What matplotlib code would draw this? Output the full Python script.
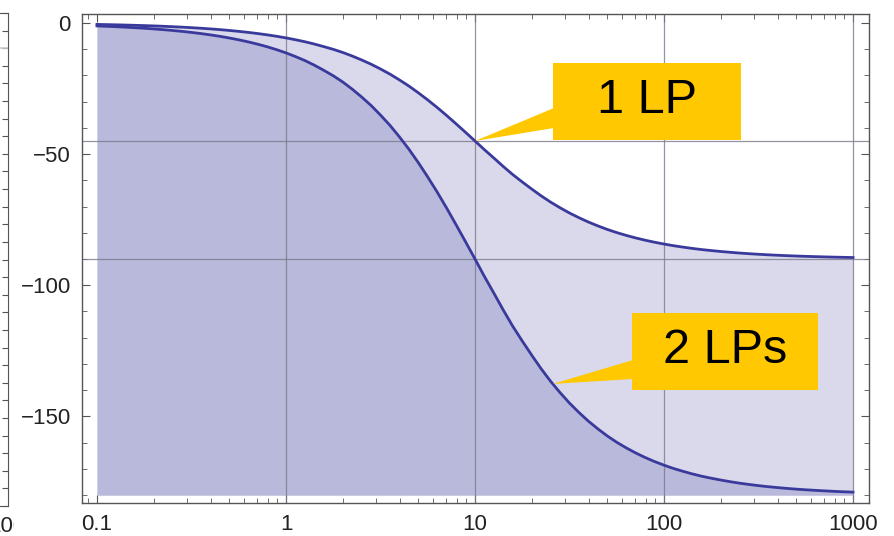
import numpy as np
import matplotlib
matplotlib.use("Agg")
import matplotlib.pyplot as plt
from matplotlib.patches import Rectangle, Polygon
from matplotlib.ticker import FixedLocator, LogLocator, MultipleLocator, NullFormatter

plt.rcParams['font.family'] = ['Liberation Sans', 'DejaVu Sans']

# frequency points (log spaced) and phase, in degrees
freq = [0.1, 0.112, 0.126, 0.141, 0.158, 0.178, 0.2, 0.224, 0.251, 0.282,
        0.316, 0.355, 0.398, 0.447, 0.501, 0.562, 0.631, 0.708, 0.794, 0.891,
        1, 1.12, 1.26, 1.41, 1.58, 1.78, 2.0, 2.24, 2.51, 2.82,
        3.16, 3.55, 3.98, 4.47, 5.01, 5.62, 6.31, 7.08, 7.94, 8.91,
        10, 11.2, 12.6, 14.1, 15.8, 17.8, 20, 22.4, 25.1, 28.2,
        31.6, 35.5, 39.8, 44.7, 50.1, 56.2, 63.1, 70.8, 79.4, 89.1,
        100, 112, 126, 141, 158, 178, 200, 224, 251, 282,
        316, 355, 398, 447, 501, 562, 631, 708, 794, 891, 1000]
phase_1lp = [-0.57, -0.64, -0.72, -0.81, -0.91, -1.02, -1.14, -1.28, -1.44, -1.61,
             -1.81, -2.03, -2.28, -2.56, -2.87, -3.22, -3.61, -4.05, -4.54, -5.09,
             -5.71, -6.40, -7.18, -8.04, -9.01, -10.08, -11.28, -12.62, -14.10, -15.74,
             -17.55, -19.53, -21.71, -24.07, -26.62, -29.35, -32.25, -35.30, -38.46, -41.71,
             -45.00, -48.29, -51.54, -54.70, -57.75, -60.65, -63.38, -65.93, -68.29, -70.47,
             -72.45, -74.26, -75.90, -77.38, -78.72, -79.92, -80.99, -81.96, -82.82, -83.60,
             -84.29, -84.91, -85.46, -85.95, -86.39, -86.78, -87.13, -87.44, -87.72, -87.97,
             -88.19, -88.39, -88.56, -88.72, -88.86, -88.98, -89.09, -89.19, -89.28, -89.36, -89.43]
phase_2lp = [-1.15, -1.29, -1.44, -1.62, -1.82, -2.04, -2.29, -2.57, -2.88, -3.23,
             -3.62, -4.06, -4.56, -5.11, -5.74, -6.44, -7.22, -8.10, -9.08, -10.19,
             -11.42, -12.80, -14.36, -16.08, -18.02, -20.16, -22.56, -25.24, -28.20, -31.48,
             -35.10, -39.06, -43.42, -48.14, -53.24, -58.70, -64.50, -70.60, -76.92, -83.42,
             -90.00, -96.58, -103.08, -109.40, -115.50, -121.30, -126.76, -131.86, -136.58, -140.94,
             -144.90, -148.52, -151.80, -154.76, -157.44, -159.84, -161.98, -163.92, -165.64, -167.20,
             -168.58, -169.82, -170.92, -171.90, -172.78, -173.56, -174.26, -174.88, -175.44, -175.94,
             -176.38, -176.78, -177.12, -177.44, -177.72, -177.96, -178.18, -178.38, -178.56, -178.72, -178.86]
fill_floor = -180

xticks = [0.1, 1, 10, 100, 1000]
xticklabels = ['0.1', '1', '10', '100', '1000']
yticks = [0, -50, -100, -150]
grid_x = [1, 10, 100, 1000]
grid_y = [-45, -90]

callout_text = ['1 LP', '2 LPs']
callout_tip = [(10, -45), (25.8, -137.6)]

W, H = 895, 536
fig = plt.figure(figsize=(W / 100, H / 100), dpi=100)

def fx(px):
    return px / W

def fy(py):
    return 1 - py / H

# cut-off neighbouring plot at the left edge
axl = fig.add_axes([fx(-400), fy(506), fx(408), fy(13) - fy(506)])
axl.set_xlim(0, 1)
axl.set_ylim(-27, 1)
axl.axhline(-1, color='#cccccc', lw=1.2)
axl.yaxis.tick_right()
axl.tick_params(axis='y', which='both', direction='in', length=4, color='#555555', labelright=False)
axl.yaxis.set_major_locator(MultipleLocator(1))
axl.set_xticks([])
for s in axl.spines.values():
    s.set_color('#555555')
fig.text(fx(-12), fy(526), '100', fontsize=16, color='#222222', ha='left', va='center')
fig.patches.append(Rectangle((fx(14), 0), fx(60), fy(506), transform=fig.transFigure,
                             color='white', zorder=5))

ax = fig.add_axes([fx(82), fy(503), fx(869) - fx(82), fy(14) - fy(503)])
ax.set_xscale('log')
ax.set_xlim(0.0833, 1215)
ax.set_ylim(-183, 3.4)

ax.fill_between(freq, phase_1lp, fill_floor, color='#d9d9eb', lw=0, zorder=1)
ax.fill_between(freq, phase_2lp, fill_floor, color='#b9badb', lw=0, zorder=1.1)
for gx in grid_x:
    ax.axvline(gx, color='#7a7a8c', lw=0.9, zorder=2, alpha=0.8)
for gy in grid_y:
    ax.axhline(gy, color='#7a7a8c', lw=0.9, zorder=2, alpha=0.8)
ax.plot(freq, phase_1lp, color='#3a3a9c', lw=2.0, zorder=3)
ax.plot(freq, phase_2lp, color='#3a3a9c', lw=2.0, zorder=3)

ax.xaxis.set_major_locator(FixedLocator(xticks))
ax.set_xticklabels(xticklabels)
ax.xaxis.set_minor_locator(LogLocator(base=10, subs=np.arange(2, 10)))
ax.xaxis.set_minor_formatter(NullFormatter())
ax.set_yticks(yticks)
ax.set_yticklabels(['0'] + ['\u2212%d' % -v for v in yticks[1:]])
ax.yaxis.set_minor_locator(MultipleLocator(10))
ax.tick_params(which='both', direction='in', top=True, right=True, color='#555555',
               labelsize=16, labelcolor='#222222', pad=8)
ax.tick_params(which='major', length=6)
ax.tick_params(which='minor', length=3.5)
for s in ax.spines.values():
    s.set_color('#555555')
    s.set_linewidth(1.0)

# yellow callouts: box in pixel layout, wedge pointing at the curve
boxes = [(553, 63, 741, 140, 108, 128), (632, 313, 818, 390, 360, 379)]
to_fig = fig.transFigure.inverted()
for text, tip, (x0, y0, x1, y1, w0, w1) in zip(callout_text, callout_tip, boxes):
    tx, ty = to_fig.transform(ax.transData.transform(tip))
    fig.patches.append(Rectangle((fx(x0), fy(y1)), fx(x1 - x0), fy(y0) - fy(y1),
                                 transform=fig.transFigure, color='#ffc800', lw=0, zorder=4))
    fig.patches.append(Polygon([(fx(x0 + 1), fy(w0)), (fx(x0 + 1), fy(w1)), (tx, ty)],
                               closed=True, transform=fig.transFigure, color='#ffc800',
                               lw=0, zorder=4))
    fig.text(fx((x0 + x1) / 2), fy((y0 + y1) / 2 - 1), text, fontsize=35, color='black',
             ha='center', va='center', zorder=6)

fig.savefig('out.png', dpi=100, facecolor='white')
